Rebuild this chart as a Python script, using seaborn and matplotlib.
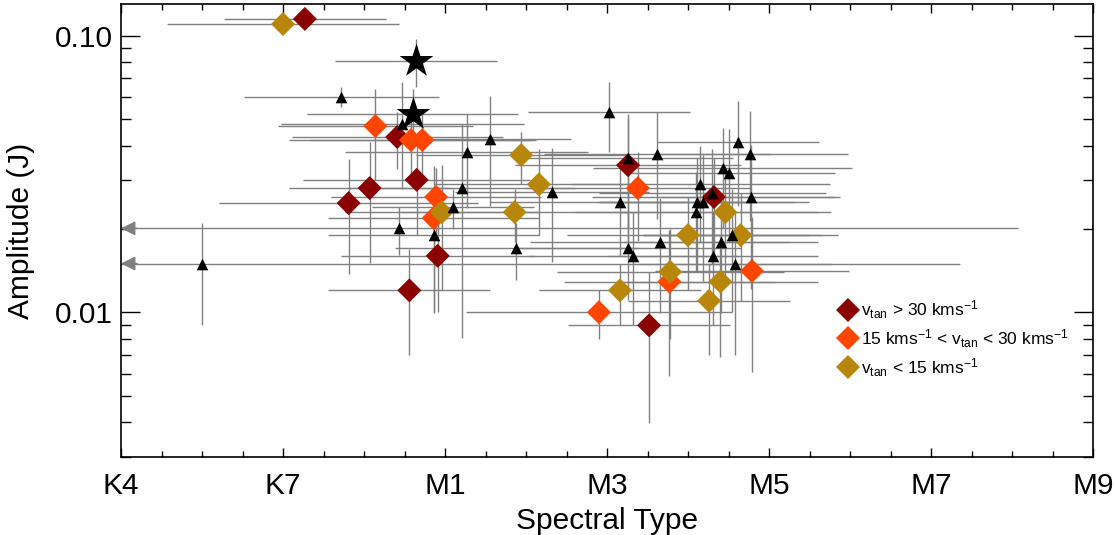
import numpy as np
import pandas as pd
import matplotlib
matplotlib.use("Agg")
import matplotlib.pyplot as plt
from matplotlib.ticker import FixedLocator, NullFormatter, MultipleLocator
import seaborn as sns

# ---------------- data ----------------
# spectral type numeric: K4=-3, K5=-2, K7=-1, M0=0, M1=1, ... M9=9
tick_pos = [-3, -1, 1, 3, 5, 7, 9]
tick_labels = ["K4", "K7", "M1", "M3", "M5", "M7", "M9"]

tri_spt = [-2.0, -0.28, 0.47, 0.43, 0.86, 1.10, 1.21, 1.27, 1.56, 1.88, 2.32, 3.02, 3.26, 3.16,
           3.26, 3.32, 3.62, 3.65, 4.10, 4.11, 4.19, 4.15, 4.30, 4.31, 4.41, 4.43, 4.51, 4.54,
           4.58, 4.62, 4.77, 4.78]
tri_amp = [0.0150, 0.0600, 0.0479, 0.0201, 0.0190, 0.0240, 0.0281, 0.0379, 0.0423, 0.0171, 0.0272,
           0.0530, 0.0361, 0.0250, 0.0171, 0.0160, 0.0373, 0.0179, 0.0230, 0.0250, 0.0250, 0.0290,
           0.0270, 0.0160, 0.0179, 0.0332, 0.0319, 0.0190, 0.0150, 0.0412, 0.0373, 0.0261]
tri_spt_err = [9.36, 1.2, 1.5, 7.64, 1.3, 1.0, 1.4, 1.5, 1.0, 1.5, 1.2, 1.0, 1.3, 1.6,
               1.4, 1.3, 1.4, 1.6, 1.5, 1.2, 1.3, 1.6, 1.4, 1.3, 1.2, 1.6, 1.3, 1.1,
               1.2, 1.0, 1.2, 1.1]
tri_amp_err = [0.006, 0.005, 0.020, 0.004, 0.009, 0.004, 0.020, 0.014, 0.018, 0.004, 0.012,
               0.015, 0.016, 0.009, 0.006, 0.007, 0.0155, 0.008, 0.009, 0.011, 0.012, 0.011,
               0.012, 0.007, 0.008, 0.013, 0.014, 0.009, 0.008, 0.017, 0.016, 0.014]

star_spt = [0.64, 0.60]
star_amp = [0.0810, 0.0521]
star_spt_err = [1.0, 1.3]
star_amp_err = [0.016, 0.012]

fast_spt = [-0.73, -0.19, 0.07, 0.41, 0.56, 0.65, 0.91, 3.26, 3.52, 4.32]
fast_amp = [0.1148, 0.0248, 0.0281, 0.0430, 0.0120, 0.0301, 0.0160, 0.0340, 0.00897, 0.0261]
fast_spt_err = [1.0, 1.6, 1.0, 1.3, 1.0, 1.4, 1.2, 1.4, 1.0, 1.5]
fast_amp_err = [0.003, 0.011, 0.013, 0.010, 0.005, 0.011, 0.006, 0.016, 0.005, 0.010]

mid_spt = [0.14, 0.58, 0.72, 0.89, 0.86, 2.90, 3.38, 3.77, 4.79]
mid_amp = [0.0471, 0.0419, 0.0419, 0.0261, 0.0219, 0.0100, 0.0281, 0.0129, 0.0141]
mid_spt_err = [1.2, 1.5, 1.4, 1.3, 1.3, 1.64, 1.4, 1.3, 1.2]
mid_amp_err = [0.017, 0.012, 0.012, 0.007, 0.012, 0.002, 0.010, 0.007, 0.008]

slow_spt = [-1.0, 0.96, 1.94, 2.16, 1.86, 3.16, 3.78, 4.00, 4.26, 4.40, 4.46, 4.65]
slow_amp = [0.110, 0.0230, 0.0370, 0.0290, 0.0230, 0.0120, 0.0140, 0.0190, 0.0110, 0.0129,
            0.0230, 0.0190]
slow_spt_err = [1.43, 1.2, 1.3, 1.3, 1.4, 1.0, 1.4, 1.5, 1.0, 1.2, 1.3, 1.2]
slow_amp_err = [0.003, 0.011, 0.008, 0.010, 0.005, 0.003, 0.006, 0.007, 0.004, 0.006, 0.010, 0.008]

group_labels = [r"v$_{\mathrm{tan}}$ > 30 kms$^{\mathrm{-1}}$",
                r"15 kms$^{\mathrm{-1}}$ < v$_{\mathrm{tan}}$ < 30 kms$^{\mathrm{-1}}$",
                r"v$_{\mathrm{tan}}$ < 15 kms$^{\mathrm{-1}}$"]
group_colors = ["#8B0000", "#FF4500", "#B8860B"]

# ---------------- style ----------------
sns.set_style("ticks")
plt.rcParams["font.family"] = ["Liberation Sans", "DejaVu Sans"]
plt.rcParams["mathtext.fontset"] = "custom"
plt.rcParams["mathtext.rm"] = "Liberation Sans"
plt.rcParams["mathtext.it"] = "Liberation Sans:italic"
plt.rcParams["mathtext.bf"] = "Liberation Sans:bold"
plt.rcParams["text.color"] = "black"
plt.rcParams["axes.labelcolor"] = "black"
plt.rcParams["xtick.color"] = "black"
plt.rcParams["ytick.color"] = "black"

fig = plt.figure(figsize=(11.16, 5.35), dpi=100)
ax = fig.add_axes([121 / 1116, 1 - 457 / 535, (1093 - 121) / 1116, (457 - 4) / 535])
ax.set_yscale("log")
xmin, xmax = -3, 9
ax.set_xlim(xmin, xmax)
ax.set_ylim(0.003, 0.13)

ecol = "#808080"

frames = []
all_sets = [
    ("tri", tri_spt, tri_amp, tri_spt_err, tri_amp_err),
    ("star", star_spt, star_amp, star_spt_err, star_amp_err),
    (group_labels[0], fast_spt, fast_amp, fast_spt_err, fast_amp_err),
    (group_labels[1], mid_spt, mid_amp, mid_spt_err, mid_amp_err),
    (group_labels[2], slow_spt, slow_amp, slow_spt_err, slow_amp_err),
]
for name, s, a, se, ae in all_sets:
    frames.append(pd.DataFrame({"spt": s, "amp": a, "spt_err": se, "amp_err": ae, "group": name}))
df = pd.concat(frames, ignore_index=True)

# error bars
ax.errorbar(df["spt"], df["amp"], xerr=df["spt_err"], yerr=df["amp_err"], fmt="none",
            ecolor=ecol, elinewidth=1.0, capsize=0, zorder=1)

# arrows where error bar runs off the left edge
clipped = df[df["spt"] - df["spt_err"] < xmin]
for _, r in clipped.iterrows():
    ax.annotate("", xy=(xmin, r["amp"]), xytext=(xmin + 0.2, r["amp"]),
                arrowprops=dict(arrowstyle="-|>", color=ecol, lw=1.0, mutation_scale=22,
                                shrinkA=0, shrinkB=0), zorder=2)

# diamonds by tangential velocity
dia = df[df["group"].isin(group_labels)]
sns.scatterplot(data=dia, x="spt", y="amp", hue="group", hue_order=group_labels,
                palette=group_colors, marker="D", s=150, linewidth=0, ax=ax, zorder=3)

tri = df[df["group"] == "tri"]
sns.scatterplot(data=tri, x="spt", y="amp", color="black", marker="^", s=70, linewidth=0,
                ax=ax, zorder=4, legend=False)
star = df[df["group"] == "star"]
sns.scatterplot(data=star, x="spt", y="amp", color="black", marker="*", s=650, linewidth=0,
                ax=ax, zorder=4, legend=False)

# axes formatting
ax.xaxis.set_major_locator(FixedLocator(tick_pos))
ax.set_xticklabels(tick_labels)
ax.xaxis.set_minor_locator(MultipleLocator(0.5))
ax.yaxis.set_major_locator(FixedLocator([0.01, 0.1]))
ax.set_yticklabels(["0.01", "0.10"])
ax.yaxis.set_minor_locator(FixedLocator([k * 10.0 ** e for e in (-3, -2) for k in range(2, 10)]))
ax.yaxis.set_minor_formatter(NullFormatter())

ax.tick_params(axis="both", which="both", direction="in", top=True, right=True,
               color="black", labelcolor="black", width=1.0, labelsize=21.5)
ax.tick_params(axis="x", which="major", length=6.5, pad=11)
ax.tick_params(axis="x", which="minor", length=4)
ax.tick_params(axis="y", which="major", length=14, pad=6)
ax.tick_params(axis="y", which="minor", length=7)
for sp in ax.spines.values():
    sp.set_linewidth(1.2)
    sp.set_color("black")

ax.set_xlabel("Spectral Type", fontsize=21.5, labelpad=5, color="black")
ax.set_ylabel("Amplitude (J)", fontsize=21.5, labelpad=14, color="black")

handles, labels = ax.get_legend_handles_labels()
leg = ax.legend(handles, labels, loc="upper left", bbox_to_anchor=(0.727, 0.365), frameon=False,
                fontsize=12.5, handletextpad=0.0, labelspacing=0.35, borderaxespad=0,
                markerscale=1.0, handlelength=1.5)
for t in leg.get_texts():
    t.set_color("black")

fig.savefig("out.png", dpi=100)
